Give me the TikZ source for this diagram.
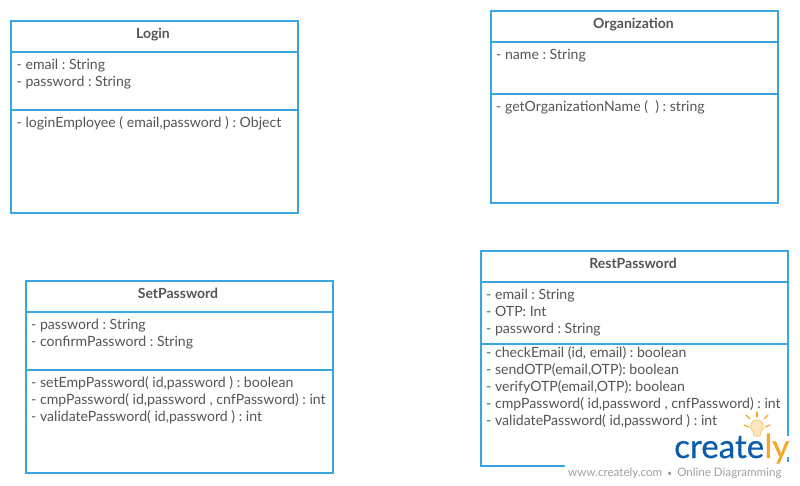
\documentclass[tikz,border=0pt]{standalone}
\usepackage{fontspec}
\setmainfont{Lato}
\newfontfamily\logofont[FakeBold=0.5]{Lato}
\definecolor{umlblue}{HTML}{3AA6E0}
\definecolor{umltext}{HTML}{555555}
\definecolor{crblue}{HTML}{0B5CAB}
\definecolor{crorange}{HTML}{F7A823}
\definecolor{crgrey}{HTML}{A0A0A0}
\tikzset{
  x=1pt,y=-1pt,
  box/.style={draw=umlblue,line width=1.7pt,fill=white},
  sep/.style={draw=umlblue,line width=1.7pt},
  title/.style={anchor=base,inner sep=0pt,text=umltext,font=\fontsize{14}{15}\selectfont\bfseries},
  member/.style={anchor=base west,inner sep=0pt,text=umltext,font=\frenchspacing\fontsize{14.1}{15}\selectfont},
  ray/.style={draw=crorange,line width=1.2pt,line cap=round},
}
\begin{document}
\begin{tikzpicture}
\useasboundingbox (0,0) rectangle (800,485);
% Login
\path[box] (11,21) rectangle (298,213);
\coordinate (l1a) at (11,52); \coordinate (l1b) at (298,52);
\coordinate (l2a) at (11,110); \coordinate (l2b) at (298,110);
\draw[sep] (l1a) -- (l1b); \draw[sep] (l2a) -- (l2b);
\node[title] (loginT) at (153,38) {Login};
\node[member] (login1) at (16.5,69) {- email : String};
\node[member] (login2) at (16.5,86) {- password : String};
\node[member] (login3) at (16.5,127) {- loginEmployee ( email,password ) : Object};
% Organization
\path[box] (491,11) rectangle (778,203);
\coordinate (o1a) at (491,42); \coordinate (o1b) at (778,42);
\coordinate (o2a) at (491,94); \coordinate (o2b) at (778,94);
\draw[sep] (o1a) -- (o1b); \draw[sep] (o2a) -- (o2b);
\node[title] (orgT) at (633.5,28) {Organization};
\node[member] (org1) at (496,59) {- name : String};
\node[member] (org2) at (496,111) {- getOrganizationName (\ \ ) : string};
% SetPassword
\path[box] (26,281) rectangle (333,473);
\coordinate (s1a) at (26,312); \coordinate (s1b) at (333,312);
\coordinate (s2a) at (26,370); \coordinate (s2b) at (333,370);
\draw[sep] (s1a) -- (s1b); \draw[sep] (s2a) -- (s2b);
\node[title] (setT) at (178,298) {SetPassword};
\node[member] (set1) at (31,329) {- password : String};
\node[member] (set2) at (31,346) {- confirmPassword : String};
\node[member] (set3) at (31,387) {- setEmpPassword( id,password ) : boolean};
\node[member] (set4) at (31,404) {- cmpPassword( id,password , cnfPassword) : int};
\node[member] (set5) at (31,421) {- validatePassword( id,password ) : int};
% RestPassword
\path[box] (481,251) rectangle (788,466);
\coordinate (r1a) at (481,282); \coordinate (r1b) at (788,282);
\coordinate (r2a) at (481,344); \coordinate (r2b) at (788,344);
\draw[sep] (r1a) -- (r1b); \draw[sep] (r2a) -- (r2b);
\node[title] (restT) at (633,268) {RestPassword};
\node[member] (rest1) at (486,299) {- email : String};
\node[member] (rest2) at (486,316) {- OTP: Int};
\node[member] (rest3) at (486,333) {- password : String};
\node[member] (rest4) at (486,357) {- checkEmail (id, email) : boolean};
\node[member] (rest5) at (486,374) {- sendOTP(email,OTP): boolean};
\node[member] (rest6) at (486,391) {- verifyOTP(email,OTP): boolean};
\node[member] (rest7) at (486,408) {- cmpPassword( id,password , cnfPassword) : int};
\node[member] (rest8) at (486,425) {- validatePassword( id,password ) : int};
% watermark
\fill[white] (565,462) rectangle (800,485);
\fill[white] (674,436) rectangle (790,457);
\node[anchor=base west,inner sep=0pt,text=crblue,font=\logofont\fontsize{33}{33}\selectfont] (logoA) at (674,458) {create};
\node[anchor=base west,inner sep=0pt,text=crorange,font=\logofont\fontsize{33}{33}\selectfont] (logoB) at (logoA.base east) {ly};
\fill[crorange!30,draw=crorange!70,line width=.7pt] (754,436) -- (753,432) .. controls (749,428) and (750,420) .. (757,420) .. controls (764,420) and (765,428) .. (761,432) -- (760,436) -- cycle;
\draw[ray] (757,412) -- (757,417);
\draw[ray] (744,425) -- (749,427);
\draw[ray] (770,425) -- (765,427);
\draw[ray] (746,415) -- (750,419);
\draw[ray] (768,415) -- (764,419);
\node[anchor=base west,inner sep=0pt,text=crgrey,font=\frenchspacing\fontsize{11.6}{13}\selectfont] (wm) at (568,476) {www.creately.com \,{\fontsize{9}{9}\selectfont•}\, Online Diagramming};
\end{tikzpicture}
\end{document}
